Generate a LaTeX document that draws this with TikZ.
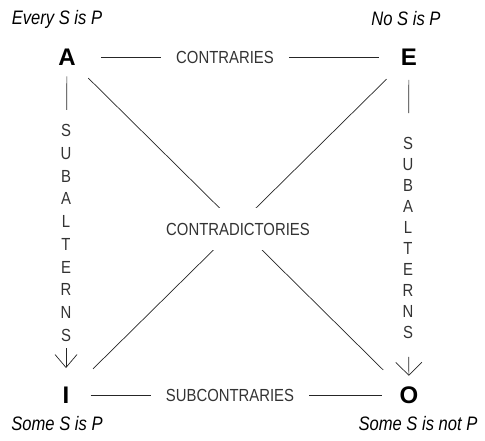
\documentclass[tikz,border=0pt]{standalone}
\usepackage{fontspec}
\setmainfont{Liberation Sans}[FakeStretch=0.85]
\newfontfamily\cornerfont{Liberation Sans}
\usetikzlibrary{arrows.meta,positioning}

\begin{document}
\begin{tikzpicture}[x=1pt,y=-1pt,
    corner/.style={inner sep=0pt,font=\cornerfont\fontsize{24}{24}\selectfont\bfseries},
    prop/.style={inner sep=0pt,font=\fontsize{19.5}{20}\selectfont\itshape},
    relation/.style={inner xsep=15pt,inner ysep=0pt,text=black!80,font=\fontsize{17.5}{18}\selectfont},
    vertrel/.style={inner sep=0pt,align=center,text=black!80,font=\fontsize{17.5}{#1}\selectfont},
    link/.style={draw=black!85,line width=0.7pt},
    barb/.style={-{Straight Barb[length=13pt,width=#1]}}]
    \useasboundingbox (0,0) rectangle (485,441);
% the four corners
    \node[corner] (A) at (67,57) {A};
    \node[corner] (E) at (409,57) {E};
    \node[corner] (I) at (66,395.5) {I};
    \node[corner] (O) at (409,395.5) {O};
    \node[prop] (every) at (57,19) {Every S is P};
    \node[prop] (no) at (406,19) {No S is P};
    \node[prop] (some) at (57,424) {Some S is P};
    \node[prop] (somenot) at (418,424) {Some S is not P};
% top and bottom
    \node[relation] (contr) at (225,57) {CONTRARIES};
    \draw[link,shorten <=25pt] (A) -- (contr);
    \draw[link,shorten >=22pt] (contr) -- (E);
    \node[relation] (subcontr) at (230,395.5) {SUBCONTRARIES};
    \draw[link,shorten <=21pt] (I) -- (subcontr);
    \draw[link,shorten >=17pt] (subcontr) -- (O);
% left and right sides
    \node[vertrel=22.7] (subL) at (66,233) {S\\U\\B\\A\\L\\T\\E\\R\\N\\S};
    \draw[link,shorten <=11pt,shorten >=14.5pt] (A) -- (subL);
    \draw[link,barb=22pt,shorten <=6.5pt,shorten >=19pt] (subL) -- (I);
    \node[vertrel=21.1] (subR) at (408,238) {S\\U\\B\\A\\L\\T\\E\\R\\N\\S};
    \draw[link,shorten <=14.5pt,shorten >=23.5pt] (E) -- (subR);
    \draw[link,barb=26pt,shorten <=17.5pt,shorten >=11pt] (subR) -- (O);
% diagonals
    \draw[link,shorten <=18pt,shorten >=24pt] (A) -- (O);
    \draw[link,shorten <=20pt,shorten >=33pt] (E) -- (I);
    \node[relation,inner xsep=2pt,inner ysep=15pt,fill=white] (contrad) at (238,229) {CONTRADICTORIES};
\end{tikzpicture}
\end{document}
